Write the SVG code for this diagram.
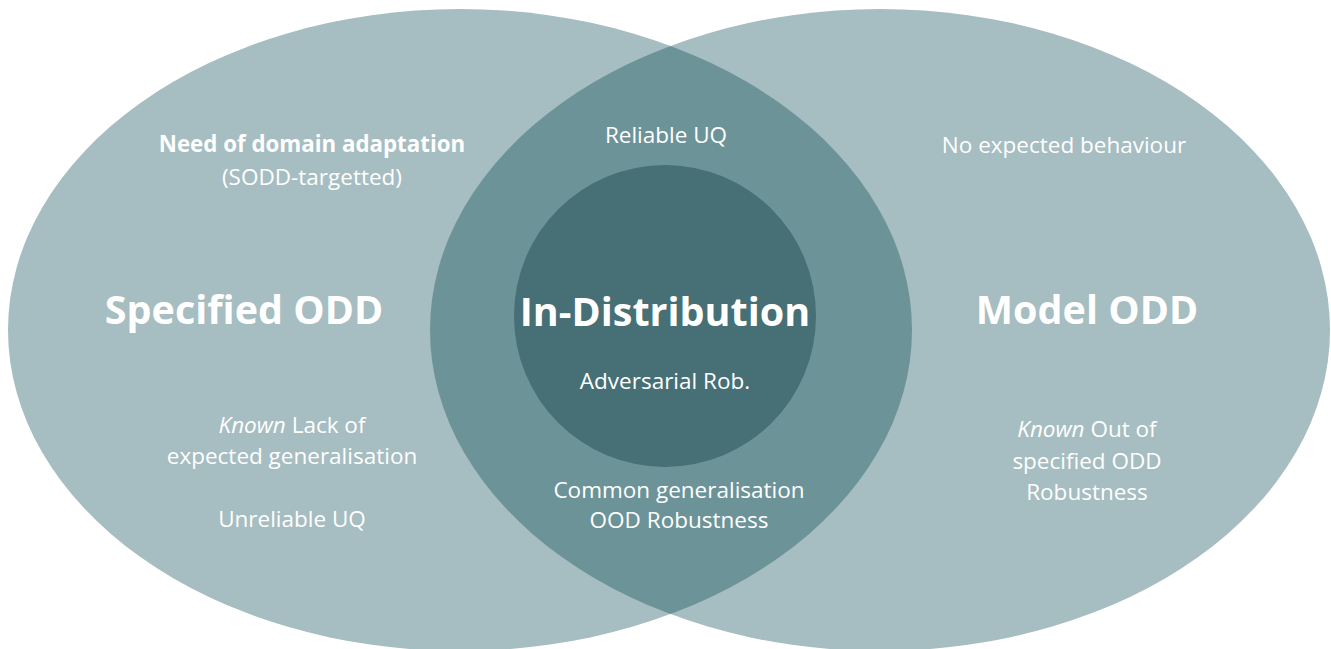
<svg xmlns="http://www.w3.org/2000/svg" width="1331" height="649" viewBox="0 0 1331 649">
<style>
text{font-family:"Open Sans","Liberation Sans",sans-serif;fill:#ffffff;text-anchor:middle}
.big{font-size:39.5px;font-weight:bold}
.sm{font-size:22.5px}
.smb{font-size:22.3px;font-weight:bold}
.light{fill:#a6bdc1}
.mid{fill:#6c9398}
.dark{fill:#466f76}
</style>
<defs>
<clipPath id="clipL"><ellipse cx="460" cy="330" rx="452" ry="321"/></clipPath>
</defs>
<rect width="1331" height="649" fill="#ffffff"/>
<g id="specified-odd">
<ellipse class="light" cx="460" cy="330" rx="452" ry="321"/>
</g>
<g id="model-odd">
<ellipse class="light" cx="880" cy="330" rx="450" ry="321"/>
</g>
<g id="overlap">
<ellipse class="mid" cx="880" cy="330" rx="450" ry="321" clip-path="url(#clipL)"/>
</g>
<g id="in-distribution">
<circle class="dark" cx="665" cy="316" r="151"/>
</g>
<g id="labels-left">
<text class="smb" x="312" y="152">Need of domain adaptation</text>
<text class="sm" x="312" y="185">(SODD-targetted)</text>
<text class="big" x="244" y="324">Specified ODD</text>
<text class="sm" x="292" y="433"><tspan font-style="italic">Known</tspan> Lack of</text>
<text class="sm" x="292" y="464">expected generalisation</text>
<text class="sm" x="292" y="527">Unreliable UQ</text>
</g>
<g id="labels-center">
<text class="sm" x="666" y="143">Reliable UQ</text>
<text class="big" x="665" y="326">In-Distribution</text>
<text class="sm" x="665" y="389">Adversarial Rob.</text>
<text class="sm" x="679" y="498">Common generalisation</text>
<text class="sm" x="679" y="528">OOD Robustness</text>
</g>
<g id="labels-right">
<text class="sm" x="1064" y="153">No expected behaviour</text>
<text class="big" x="1087" y="324">Model ODD</text>
<text class="sm" x="1087" y="437"><tspan font-style="italic">Known</tspan> Out of</text>
<text class="sm" x="1087" y="469">specified ODD</text>
<text class="sm" x="1087" y="500">Robustness</text>
</g>
<g id="connectors"></g>
</svg>
